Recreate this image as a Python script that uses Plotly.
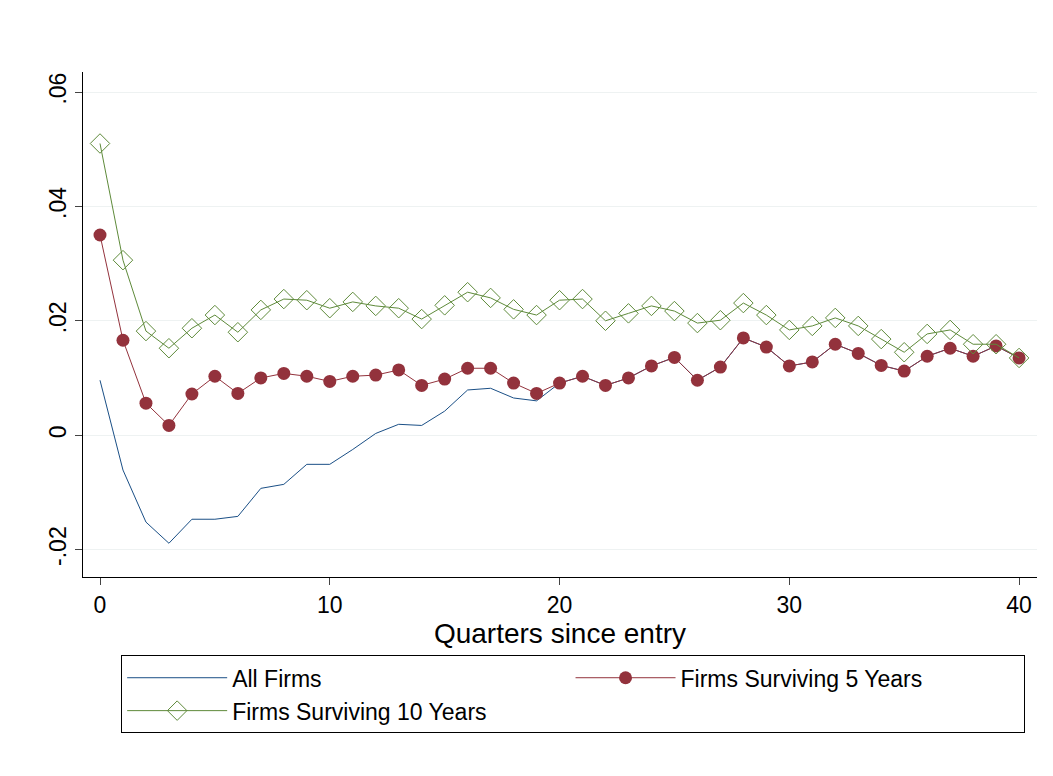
import plotly.graph_objects as go

quarters = list(range(41))

all_firms_early = [0.0096, -0.0061, -0.0152, -0.0189, -0.0147, -0.0147, -0.0142, -0.0093, -0.0086, -0.0051,
                   -0.0051, -0.0025, 0.0003, 0.0019, 0.0017, 0.0042, 0.0079, 0.0082, 0.0065, 0.0060]

surv5 = [0.0350, 0.0166, 0.0056, 0.0017, 0.0072, 0.0103, 0.0073, 0.0100, 0.0108, 0.0103,
         0.0094, 0.0103, 0.0105, 0.0114, 0.0087, 0.0098, 0.0117, 0.0117, 0.0091, 0.0073,
         0.0091, 0.0103, 0.0087, 0.0100, 0.0121, 0.0136, 0.0096, 0.0119, 0.0170, 0.0154,
         0.0121, 0.0128, 0.0159, 0.0143, 0.0122, 0.0112, 0.0138, 0.0152, 0.0138, 0.0156, 0.0135]

surv10 = [0.0510, 0.0306, 0.0182, 0.0152, 0.0187, 0.0210, 0.0180, 0.0219, 0.0238, 0.0236,
          0.0222, 0.0233, 0.0226, 0.0222, 0.0203, 0.0227, 0.0250, 0.0240, 0.0220, 0.0210,
          0.0236, 0.0238, 0.0200, 0.0213, 0.0226, 0.0217, 0.0196, 0.0201, 0.0231, 0.0210,
          0.0184, 0.0191, 0.0205, 0.0191, 0.0168, 0.0145, 0.0177, 0.0184, 0.0159, 0.0159, 0.0135]

# after quarter 20 the all-firms line sits under the 5-year line
all_firms = all_firms_early + surv5[20:]

fig = go.Figure()
fig.add_trace(go.Scatter(x=quarters, y=all_firms, mode="lines", name="All Firms",
                         line=dict(color="#1a4f86", width=1)))
fig.add_trace(go.Scatter(x=quarters, y=surv5, mode="lines+markers", name="Firms Surviving 5 Years",
                         line=dict(color="#93323c", width=1),
                         marker=dict(symbol="circle", size=13, color="#93323c")))
fig.add_trace(go.Scatter(x=quarters, y=surv10, mode="lines+markers", name="Firms Surviving 10 Years",
                         line=dict(color="#5e8a3a", width=1),
                         marker=dict(symbol="diamond-open", size=15, color="#5e8a3a", line=dict(width=1))))

fig.update_layout(
    width=1053, height=776,
    margin=dict(l=75, r=24, t=64, b=207),
    paper_bgcolor="white", plot_bgcolor="white",
    font=dict(family="Liberation Sans, Arial", size=23, color="black"),
    xaxis=dict(range=[-0.74, 40.78], tickvals=[0, 10, 20, 30, 40], showgrid=False, zeroline=False,
               showline=True, linecolor="black", linewidth=1, ticks="outside", ticklen=7,
               title=dict(text="Quarters since entry", standoff=2)),
    yaxis=dict(range=[-0.0248, 0.0635], tickvals=[-0.02, 0, 0.02, 0.04, 0.06],
               ticktext=["-.02", "0", ".02", ".04", ".06"], tickangle=-90,
               showgrid=True, gridcolor="#eef2f2", zeroline=False,
               showline=True, linecolor="black", linewidth=1, ticks="outside", ticklen=7),
    legend=dict(orientation="h", x=0.04, xanchor="left", y=-0.155, yanchor="top",
                bordercolor="black", borderwidth=1, entrywidth=0.47, entrywidthmode="fraction",
                itemwidth=100, traceorder="normal", font=dict(size=23)),
)

fig.write_html("out.html")
